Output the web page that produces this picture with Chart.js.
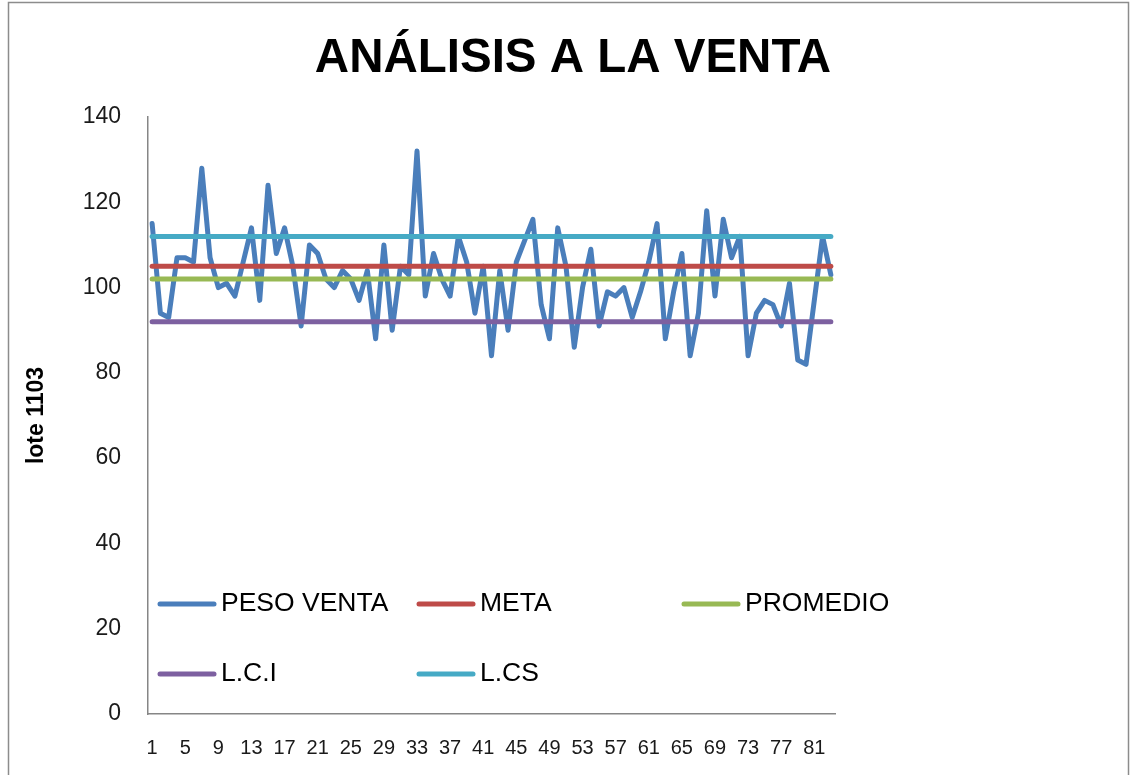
<!DOCTYPE html>
<html>
<head>
<meta charset="utf-8">
<title>Análisis a la venta</title>
<script src="https://cdn.jsdelivr.net/npm/chart.js@4/dist/chart.umd.min.js"></script>
<style>
    html, body { margin: 0; padding: 0; background: #fff; }
    #wrap { width: 1137px; height: 775px; position: relative; }
</style>
</head>
<body>
<div id="wrap"><canvas id="ventaChart"></canvas></div>
<script>
// ===================================
// Datos del lote 1103
// ===================================

const lotes = [
    '1', '2', '3', '4', '5', '6', '7', '8', '9', '10',
    '11', '12', '13', '14', '15', '16', '17', '18', '19', '20',
    '21', '22', '23', '24', '25', '26', '27', '28', '29', '30',
    '31', '32', '33', '34', '35', '36', '37', '38', '39', '40',
    '41', '42', '43', '44', '45', '46', '47', '48', '49', '50',
    '51', '52', '53', '54', '55', '56', '57', '58', '59', '60',
    '61', '62', '63', '64', '65', '66', '67', '68', '69', '70',
    '71', '72', '73', '74', '75', '76', '77', '78', '79', '80',
    '81', '82', '83'
];

const pesoVenta = [
    115, 94, 93, 107, 107, 106, 128, 107, 100, 101,
    98, 106, 114, 97, 124, 108, 114, 105, 91, 110,
    108, 102, 100, 104, 102, 97, 104, 88, 110, 90,
    105, 103, 132, 98, 108, 102, 98, 112, 106, 94,
    105, 84, 104, 90, 106, 111, 116, 96, 88, 114,
    105, 86, 100, 109, 91, 99, 98, 100, 93, 99,
    106, 115, 88, 99, 108, 84, 94, 118, 98, 116,
    107, 112, 84, 94, 97, 96, 91, 101, 83, 82,
    97, 112, 103
];

// limites de control (valores constantes)
const meta = 105;
const promedio = 102;
const lci = 92;
const lcs = 112;

const yTicks = [0, 20, 40, 60, 80, 100, 120, 140];

const FONT = '"Liberation Sans", Arial, sans-serif';

// la libreria necesita una serie por linea horizontal
function constante(valor) {
    return lotes.map(() => valor);
}

document.addEventListener('DOMContentLoaded', function() {
    initializeVentaChart();
});

// fondo blanco y marco gris del grafico
const marcoPlugin = {
    id: 'marco',
    beforeDraw(chart) {
        const ctx = chart.ctx;
        ctx.save();
        ctx.fillStyle = '#ffffff';
        ctx.fillRect(0, 0, chart.width, chart.height);
        ctx.strokeStyle = '#8c8c8c';
        ctx.lineWidth = 1.5;
        ctx.strokeRect(8.5, 2.5, 1120, chart.height + 10);
        ctx.restore();
    }
};

// leyenda dentro del area de trazado, como en Excel
const leyendaPlugin = {
    id: 'leyendaExcel',
    afterDatasetsDraw(chart, args, opts) {
        const ctx = chart.ctx;
        ctx.save();
        ctx.font = opts.font;
        ctx.textBaseline = 'middle';
        ctx.textAlign = 'left';
        opts.items.forEach(item => {
            const ds = chart.data.datasets[item.index];
            ctx.strokeStyle = ds.borderColor;
            ctx.lineWidth = 5;
            ctx.lineCap = 'round';
            ctx.beginPath();
            ctx.moveTo(item.x, item.y);
            ctx.lineTo(item.x + 54, item.y);
            ctx.stroke();
            ctx.fillStyle = '#000';
            ctx.fillText(ds.label, item.x + 61, item.y);
        });
        ctx.restore();
    }
};

function initializeVentaChart() {
    const ctx = document.getElementById('ventaChart');
    if (!ctx) return;

    new Chart(ctx, {
        type: 'line',
        data: {
            labels: lotes,
            datasets: [
                {
                    label: 'PESO VENTA',
                    data: pesoVenta,
                    borderColor: '#4A7EBB',
                    borderWidth: 5,
                    order: 1
                },
                {
                    label: 'META',
                    data: constante(meta),
                    borderColor: '#BE4B48',
                    borderWidth: 5,
                    order: 0
                },
                {
                    label: 'PROMEDIO',
                    data: constante(promedio),
                    borderColor: '#98B954',
                    borderWidth: 5,
                    order: 0
                },
                {
                    label: 'L.C.I',
                    data: constante(lci),
                    borderColor: '#7D60A0',
                    borderWidth: 5,
                    order: 0
                },
                {
                    label: 'L.CS',
                    data: constante(lcs),
                    borderColor: '#46AAC5',
                    borderWidth: 5,
                    order: 0
                }
            ]
        },
        options: {
            responsive: true,
            maintainAspectRatio: false,
            animation: false,
            layout: {
                padding: { left: 17, right: 8, top: 0, bottom: 0 }
            },
            elements: {
                point: { radius: 0, hoverRadius: 0 },
                line: { tension: 0, borderCapStyle: 'round', borderJoinStyle: 'round' }
            },
            plugins: {
                legend: { display: false },
                tooltip: { enabled: false },
                title: {
                    display: true,
                    text: 'ANÁLISIS A LA VENTA',
                    color: '#000',
                    font: { family: FONT, size: 47.5, weight: 'bold', lineHeight: 1.2 },
                    padding: { top: 30, bottom: 30 }
                },
                leyendaExcel: {
                    font: '26.5px ' + FONT,
                    items: [
                        { index: 0, x: 160, y: 604 },
                        { index: 1, x: 419, y: 604 },
                        { index: 2, x: 684, y: 604 },
                        { index: 3, x: 160, y: 674 },
                        { index: 4, x: 419, y: 674 }
                    ]
                }
            },
            scales: {
                x: {
                    type: 'category',
                    offset: true,
                    grid: { display: false, drawTicks: false },
                    border: { display: true, color: '#868686', width: 1.5 },
                    ticks: {
                        autoSkip: false,
                        maxRotation: 0,
                        minRotation: 0,
                        padding: 22,
                        color: '#1a1a1a',
                        font: { family: FONT, size: 20 },
                        callback: function(value, index) {
                            return index % 4 === 0 ? this.getLabelForValue(value) : '';
                        }
                    },
                    afterFit: scale => { scale.height = 61; }
                },
                y: {
                    min: yTicks[0],
                    max: yTicks[yTicks.length - 1],
                    afterBuildTicks: scale => {
                        scale.ticks = yTicks.map(v => ({ value: v }));
                    },
                    grid: { display: false, drawTicks: false },
                    border: { display: true, color: '#868686', width: 1.5 },
                    ticks: {
                        padding: 27,
                        color: '#1a1a1a',
                        font: { family: FONT, size: 23 }
                    },
                    title: {
                        display: true,
                        text: 'lote 1103',
                        color: '#000',
                        font: { family: FONT, size: 23, weight: 'bold' },
                        padding: { top: 6, bottom: 0 }
                    },
                    afterFit: scale => { scale.width = 131; }
                },
                derecha: {
                    position: 'right',
                    display: true,
                    grid: { display: false, drawTicks: false },
                    border: { display: false },
                    ticks: { display: false },
                    afterFit: scale => { scale.width = 294; }
                }
            }
        },
        plugins: [marcoPlugin, leyendaPlugin]
    });
}
</script>
</body>
</html>
